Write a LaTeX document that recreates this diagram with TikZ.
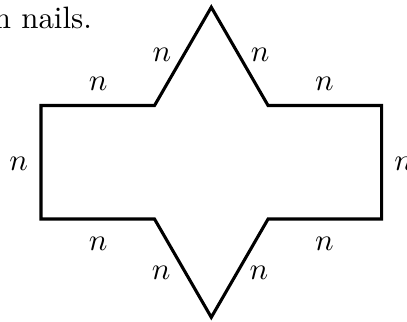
\documentclass[tikz,border=0pt]{standalone}
\begin{document}
\begin{tikzpicture}[
  edge/.style={draw, line width=1pt},
  lab/.style={inner sep=0pt}
]
\useasboundingbox (-0.466,-1.170) rectangle (4.159,2.489);
\node[lab, anchor=base west] (cap) at (-0.543,2.170) {n nails.};

\coordinate (a) at (0,0);
\coordinate (b) at (0,1.29);
\coordinate (c) at (1.29,1.29);
\coordinate (top) at (1.935,2.407);
\coordinate (d) at (2.58,1.29);
\coordinate (e) at (3.87,1.29);
\coordinate (f) at (3.87,0);
\coordinate (g) at (2.58,0);
\coordinate (bot) at (1.935,-1.117);
\coordinate (h) at (1.29,0);

\draw[edge] (a) -- (b) -- (c) -- (top) -- (d) -- (e) -- (f) -- (g) -- (bot) -- (h) -- cycle;

\node[lab] (nl) at (-0.255,0.625) {$n$};
\node[lab] (nr) at (4.12,0.625) {$n$};
\node[lab] (ntl) at (0.648,1.534) {$n$};
\node[lab] (ntr) at (3.22,1.534) {$n$};
\node[lab] (nul) at (1.375,1.864) {$n$};
\node[lab] (nur) at (2.489,1.864) {$n$};
\node[lab] (nbl) at (0.648,-0.284) {$n$};
\node[lab] (nbr) at (3.22,-0.284) {$n$};
\node[lab] (nll) at (1.364,-0.614) {$n$};
\node[lab] (nlr) at (2.477,-0.614) {$n$};
\end{tikzpicture}
\end{document}
